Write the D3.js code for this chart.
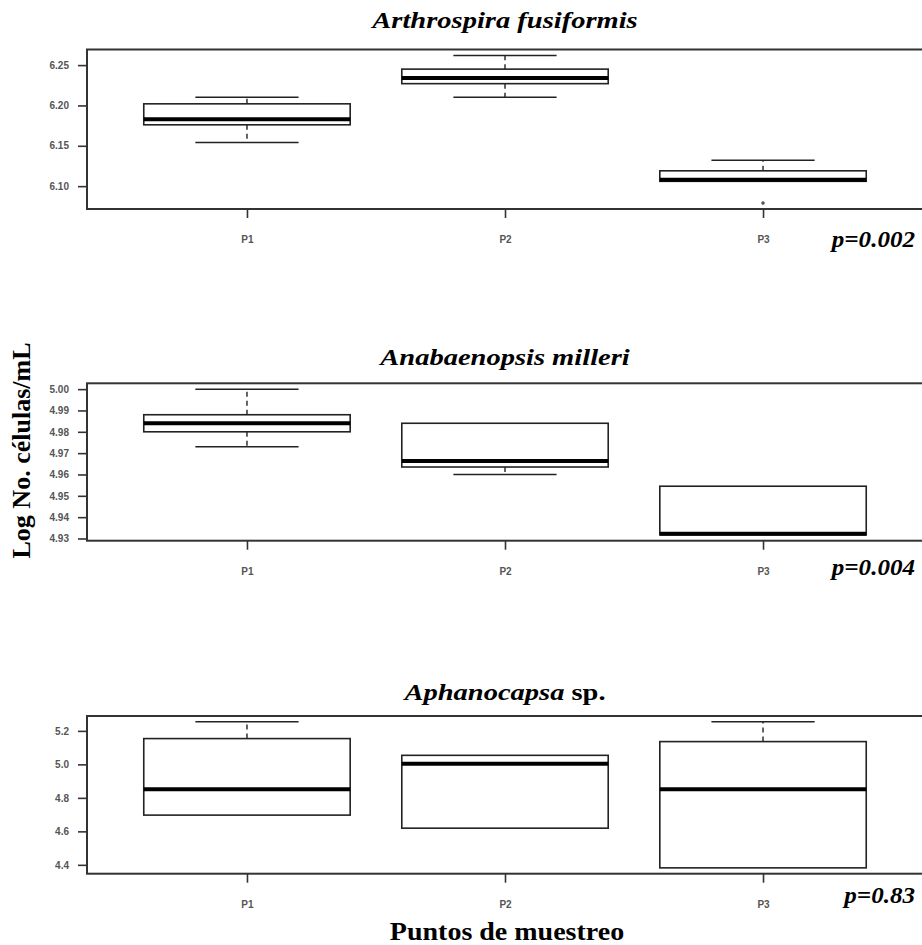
<!DOCTYPE html>
<html>
<head>
<meta charset="utf-8">
<script src="https://cdn.jsdelivr.net/npm/d3@7"></script>
<style>
  html, body { margin: 0; padding: 0; background: #fff; }
  svg { display: block; }
</style>
</head>
<body>
<div id="chart"></div>
<script>
// puntos de muestreo
var sitios = ["P1", "P2", "P3"];

// [bigote inf, Q1, mediana, Q3, bigote sup] por punto
var arthrospira = [
  [6.154, 6.176, 6.183, 6.202, 6.210],
  [6.210, 6.227, 6.234, 6.245, 6.262],
  [6.106, 6.106, 6.108, 6.119, 6.132]
];
var arthrospiraOut = [[], [], [6.079]];

var anabaenopsis = [
  [4.973, 4.980, 4.984, 4.988, 5.000],
  [4.960, 4.9635, 4.9663, 4.984, 4.984],
  [4.9317, 4.9317, 4.9322, 4.9545, 4.9545]
];
var anabaenopsisOut = [[], [], []];

var aphanocapsa = [
  [4.697, 4.697, 4.851, 5.154, 5.254],
  [4.619, 4.619, 5.004, 5.054, 5.054],
  [4.382, 4.382, 4.851, 5.136, 5.254]
];
var aphanocapsaOut = [[], [], []];

var ticksArth = [6.10, 6.15, 6.20, 6.25];
var ticksAnab = [4.93, 4.94, 4.95, 4.96, 4.97, 4.98, 4.99, 5.00];
var ticksAphan = [4.4, 4.6, 4.8, 5.0, 5.2];

var pValores = ["p=0.002", "p=0.004", "p=0.83"];

var width = 922, height = 945;
var left = 87, right = 923;
var serif = "'Liberation Serif', 'Times New Roman', Times, serif";
var sans = "'Liberation Sans', Arial, sans-serif";

var svg = d3.select("#chart").append("svg")
  .attr("width", width)
  .attr("height", height);

svg.append("rect").attr("width", width).attr("height", height).attr("fill", "#fff");

var x = d3.scalePoint().domain(sitios).range([left, right]).padding(0.62);
var boxW = x.step() * 0.8;

var paneles = [
  { stats: arthrospira, out: arthrospiraOut, ticks: ticksArth, fmt: ".2f",
    top: 49.5, bottom: 209, titleY: 28, p: pValores[0], pY: 247,
    title: [["Arthrospira fusiformis", true]] },
  { stats: anabaenopsis, out: anabaenopsisOut, ticks: ticksAnab, fmt: ".2f",
    top: 383.3, bottom: 540.7, titleY: 365, p: pValores[1], pY: 575,
    title: [["Anabaenopsis milleri", true]] },
  { stats: aphanocapsa, out: aphanocapsaOut, ticks: ticksAphan, fmt: ".1f",
    top: 716, bottom: 873.7, titleY: 700, p: pValores[2], pY: 903,
    title: [["Aphanocapsa", true], [" sp.", false]] }
];

paneles.forEach(function (pn) {
  var all = [];
  pn.stats.forEach(function (s) { all = all.concat(s); });
  pn.out.forEach(function (o) { all = all.concat(o); });
  var ext = d3.extent(all);
  var pad = (ext[1] - ext[0]) * 0.04;
  var y = d3.scaleLinear().domain([ext[0] - pad, ext[1] + pad]).range([pn.bottom, pn.top]);

  var g = svg.append("g");

  // eje y
  var ay = g.append("g")
    .attr("transform", "translate(" + left + ",0)")
    .call(d3.axisLeft(y).tickValues(pn.ticks).tickFormat(d3.format(pn.fmt)).tickSize(9).tickPadding(9));
  ay.select(".domain").remove();
  ay.selectAll("line").attr("stroke", "#333").attr("stroke-width", 1.6);
  ay.selectAll("text").attr("fill", "#555").style("font-family", sans)
    .style("font-size", "10px").style("font-weight", "bold");

  // eje x
  var ax = g.append("g")
    .attr("transform", "translate(0," + pn.bottom + ")")
    .call(d3.axisBottom(x).tickSize(9).tickPadding(18));
  ax.select(".domain").remove();
  ax.selectAll("line").attr("stroke", "#333").attr("stroke-width", 1.6);
  ax.selectAll("text").attr("fill", "#555").style("font-family", sans)
    .style("font-size", "10px").style("font-weight", "bold");

  // cajas
  var cajas = g.selectAll(".caja").data(pn.stats).enter().append("g").attr("class", "caja");
  cajas.each(function (s, i) {
    var c = d3.select(this);
    var cx = x(sitios[i]);
    // bigotes
    c.append("line").attr("x1", cx).attr("x2", cx).attr("y1", y(s[3])).attr("y2", y(s[4]))
      .attr("stroke", "#222").attr("stroke-width", 1.4).attr("stroke-dasharray", "5,4");
    c.append("line").attr("x1", cx).attr("x2", cx).attr("y1", y(s[1])).attr("y2", y(s[0]))
      .attr("stroke", "#222").attr("stroke-width", 1.4).attr("stroke-dasharray", "5,4");
    if (s[4] > s[3]) {
      c.append("line").attr("x1", cx - boxW / 4).attr("x2", cx + boxW / 4).attr("y1", y(s[4])).attr("y2", y(s[4]))
        .attr("stroke", "#222").attr("stroke-width", 1.5);
    }
    if (s[0] < s[1]) {
      c.append("line").attr("x1", cx - boxW / 4).attr("x2", cx + boxW / 4).attr("y1", y(s[0])).attr("y2", y(s[0]))
        .attr("stroke", "#222").attr("stroke-width", 1.5);
    }
    c.append("rect").attr("x", cx - boxW / 2).attr("width", boxW)
      .attr("y", y(s[3])).attr("height", y(s[1]) - y(s[3]))
      .attr("fill", "#fff").attr("stroke", "#222").attr("stroke-width", 1.6);
    c.append("line").attr("x1", cx - boxW / 2).attr("x2", cx + boxW / 2).attr("y1", y(s[2])).attr("y2", y(s[2]))
      .attr("stroke", "#000").attr("stroke-width", 4);
  });

  // atípicos
  pn.out.forEach(function (o, i) {
    o.forEach(function (v) {
      g.append("circle").attr("cx", x(sitios[i])).attr("cy", y(v)).attr("r", 1.8)
        .attr("fill", "#555").attr("stroke", "none");
    });
  });

  // marco
  g.append("rect").attr("x", left).attr("y", pn.top).attr("width", right - left).attr("height", pn.bottom - pn.top)
    .attr("fill", "none").attr("stroke", "#333").attr("stroke-width", 2);

  // título (la figura original está algo estirada en horizontal)
  var t = g.append("text")
    .attr("transform", "translate(" + ((left + right) / 2) + "," + pn.titleY + ") scale(1.24,1)")
    .attr("text-anchor", "middle")
    .style("font-family", serif).style("font-size", "23px")
    .style("font-weight", "bold");
  pn.title.forEach(function (part) {
    t.append("tspan").text(part[0]).style("font-style", part[1] ? "italic" : "normal");
  });

  // valor p
  g.append("text")
    .attr("transform", "translate(915," + pn.pY + ") scale(1.09,1)")
    .attr("text-anchor", "end")
    .style("font-family", serif).style("font-size", "23px")
    .style("font-weight", "bold").style("font-style", "italic").text(pn.p);
});

// etiquetas de ejes
svg.append("text").attr("transform", "translate(30,450.5) rotate(-90)").attr("text-anchor", "middle")
  .style("font-family", serif).style("font-size", "26px")
  .style("font-weight", "bold").text("Log No. células/mL");

svg.append("text").attr("transform", "translate(507,940) scale(1.12,1)").attr("text-anchor", "middle")
  .style("font-family", serif).style("font-size", "25px")
  .style("font-weight", "bold").text("Puntos de muestreo");
</script>
</body>
</html>
